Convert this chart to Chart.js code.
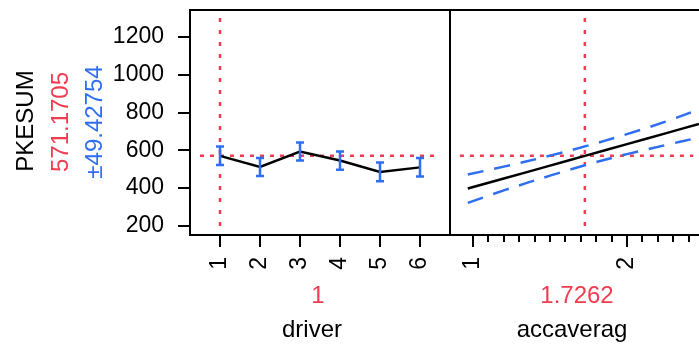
<!DOCTYPE html>
<html>
<head>
<meta charset="utf-8">
<script src="https://cdn.jsdelivr.net/npm/chart.js@4.4.0/dist/chart.umd.min.js"></script>
<style>
    html, body { margin: 0; padding: 0; background: #fff; }
    #wrap { position: relative; width: 699px; height: 345px; overflow: hidden; }
    #left { position: absolute; left: 0; top: 0; }
    #right { position: absolute; left: 448px; top: 0; }
</style>
</head>
<body>
<div id="wrap">
    <canvas id="left" width="450" height="345"></canvas>
    <canvas id="right" width="251" height="345"></canvas>
</div>
<script>
// response
const responseName = "PKESUM";
const predValue = 571.1705;
const predText = "571.1705";
const errText = "±49.42754";

// driver panel
const driverLevels = [1, 2, 3, 4, 5, 6];
const driverMean = [571, 512, 594, 546, 486, 510];
const driverLower = [522, 464, 546, 498, 436, 462];
const driverUpper = [621, 560, 642, 594, 536, 560];
const driverCurrent = 1;

// accaverag panel
const accX = [0.966, 1.2, 1.5, 1.7262, 2.0, 2.25, 2.467];
const accPred = [398, 451, 519, 571, 633, 690, 740];
const accUpper = [472, 514, 572, 621, 686, 752, 817];
const accLower = [322, 388, 466, 521, 580, 628, 668];
const accCurrent = 1.7262;
const accTicks = [1, 1.1, 1.2, 1.3, 1.4, 1.5, 1.6, 1.7, 1.8, 1.9, 2, 2.1, 2.2, 2.3, 2.4];

// y axis
const yTicks = [200, 300, 400, 500, 600, 700, 800, 900, 1000, 1100, 1200, 1300];
const yMin = 152;
const yMax = 1343;

const RED = "#f03c50";
const BLUE = "#2f6ef0";
const FONT = 'Arial, "Liberation Sans", sans-serif';
const TICK_SIZE = 23;
const TITLE_SIZE = 24;

Chart.defaults.font.family = FONT;
Chart.defaults.color = "#000";

function fitBox(w, h) {
    return (scale) => {
        if (w !== null) scale.width = w;
        if (h !== null) scale.height = h;
        scale.paddingTop = 0;
        scale.paddingBottom = 0;
        scale.paddingLeft = 0;
        scale.paddingRight = 0;
    };
}

function dashed(ctx, pts, dash, color, width) {
    ctx.save();
    ctx.strokeStyle = color;
    ctx.lineWidth = width;
    ctx.setLineDash(dash);
    ctx.beginPath();
    ctx.moveTo(pts[0], pts[1]);
    ctx.lineTo(pts[2], pts[3]);
    ctx.stroke();
    ctx.restore();
}

function refLines(chart, xVal, xFrom, xTo) {
    const { ctx, scales } = chart;
    const x = scales.x, y = scales.y;
    const py = y.getPixelForValue(predValue);
    dashed(ctx, [x.getPixelForValue(xFrom), py, x.getPixelForValue(xTo), py], [4, 6], RED, 2.5);
    const px = x.getPixelForValue(xVal);
    dashed(ctx, [px, y.getPixelForValue(1300), px, y.getPixelForValue(200)], [4, 8], RED, 2.5);
}

function frame(chart, sides) {
    const { ctx, chartArea: a } = chart;
    ctx.save();
    ctx.strokeStyle = "#000";
    ctx.lineWidth = 2;
    ctx.beginPath();
    if (sides.includes("t")) { ctx.moveTo(a.left - 1, a.top); ctx.lineTo(a.right + 1, a.top); }
    if (sides.includes("b")) { ctx.moveTo(a.left - 1, a.bottom); ctx.lineTo(a.right + 1, a.bottom); }
    if (sides.includes("l")) { ctx.moveTo(a.left, a.top); ctx.lineTo(a.left, a.bottom); }
    if (sides.includes("r")) { ctx.moveTo(a.right, a.top); ctx.lineTo(a.right, a.bottom); }
    ctx.stroke();
    ctx.restore();
}

function text(ctx, str, x, y, color, size, rotate) {
    ctx.save();
    ctx.fillStyle = color;
    ctx.font = size + "px " + FONT;
    ctx.textAlign = "center";
    ctx.textBaseline = "alphabetic";
    ctx.translate(x, y);
    if (rotate) ctx.rotate(-Math.PI / 2);
    ctx.fillText(str, 0, 0);
    ctx.restore();
}

const leftPlugin = {
    id: "leftPanel",
    beforeDatasetsDraw(chart) {
        refLines(chart, driverCurrent, 0.5, 6.35);
    },
    afterDatasetsDraw(chart) {
        const { ctx, scales } = chart;
        ctx.save();
        ctx.strokeStyle = BLUE;
        ctx.lineWidth = 2.5;
        driverLevels.forEach((lv, i) => {
            const x = scales.x.getPixelForValue(lv);
            const t = scales.y.getPixelForValue(driverUpper[i]);
            const b = scales.y.getPixelForValue(driverLower[i]);
            ctx.beginPath();
            ctx.moveTo(x, t); ctx.lineTo(x, b);
            ctx.moveTo(x - 4, t); ctx.lineTo(x + 4, t);
            ctx.moveTo(x - 4, b); ctx.lineTo(x + 4, b);
            ctx.stroke();
        });
        ctx.restore();
        frame(chart, "tblr");
    },
    afterDraw(chart) {
        const ctx = chart.ctx;
        text(ctx, responseName, 33, 121, "#000", TITLE_SIZE, true);
        text(ctx, predText, 68, 122, RED, TITLE_SIZE, true);
        text(ctx, errText, 102, 122, BLUE, TITLE_SIZE, true);
        text(ctx, String(driverCurrent), 318, 303, RED, TITLE_SIZE, false);
        text(ctx, "driver", 312, 337, "#000", TITLE_SIZE, false);
    }
};

const rightPlugin = {
    id: "rightPanel",
    beforeDatasetsDraw(chart) {
        refLines(chart, accCurrent, 0.915, 2.43);
    },
    afterDatasetsDraw(chart) {
        frame(chart, "tbl");
        const { ctx, scales, chartArea } = chart;
        ctx.save();
        ctx.strokeStyle = "#000";
        ctx.lineWidth = 2;
        accTicks.filter(v => !Number.isInteger(v)).forEach(v => {
            const x = Math.round(scales.x.getPixelForValue(v));
            ctx.beginPath();
            ctx.moveTo(x, chartArea.bottom);
            ctx.lineTo(x, chartArea.bottom + 7);
            ctx.stroke();
        });
        ctx.restore();
    },
    afterDraw(chart) {
        const ctx = chart.ctx;
        text(ctx, String(accCurrent), 577 - 448, 303, RED, TITLE_SIZE, false);
        text(ctx, "accaverag", 572 - 448, 337, "#000", TITLE_SIZE, false);
    }
};

const yAxis = (show) => ({
    type: "linear",
    display: show,
    min: yMin,
    max: yMax,
    afterBuildTicks: (s) => { s.ticks = yTicks.map(v => ({ value: v })); },
    afterFit: fitBox(show ? 190 : 0, null),
    border: { display: false },
    grid: { drawOnChartArea: false, tickLength: 12, lineWidth: 2, color: "#000" },
    ticks: {
        padding: 14,
        font: { size: TICK_SIZE },
        callback: (v) => (v % 200 === 0 ? String(v) : "")
    }
});

new Chart(document.getElementById("left"), {
    type: "line",
    data: {
        datasets: [{
            data: driverLevels.map((lv, i) => ({ x: lv, y: driverMean[i] })),
            borderColor: "#000",
            borderWidth: 2.5,
            pointRadius: 0,
            tension: 0
        }]
    },
    options: {
        responsive: false,
        animation: false,
        devicePixelRatio: 1,
        layout: { padding: { top: 10, right: 0, bottom: 0, left: 0 } },
        plugins: { legend: { display: false }, tooltip: { enabled: false } },
        scales: {
            x: {
                type: "linear",
                min: 0.25,
                max: 6.75,
                afterBuildTicks: (s) => { s.ticks = driverLevels.map(v => ({ value: v })); },
                afterFit: fitBox(null, 110),
                border: { display: false },
                grid: { drawOnChartArea: false, tickLength: 12, lineWidth: 2, color: "#000" },
                ticks: { minRotation: 90, maxRotation: 90, padding: 10, font: { size: TICK_SIZE } }
            },
            y: yAxis(true)
        }
    },
    plugins: [leftPlugin]
});

const bandLine = (vals, color, dash) => ({
    data: accX.map((x, i) => ({ x, y: vals[i] })),
    borderColor: color,
    borderWidth: 2.5,
    borderDash: dash,
    pointRadius: 0,
    tension: 0.4
});

new Chart(document.getElementById("right"), {
    type: "line",
    data: {
        datasets: [
            bandLine(accPred, "#000", []),
            bandLine(accUpper, BLUE, [16, 11]),
            bandLine(accLower, BLUE, [16, 11])
        ]
    },
    options: {
        responsive: false,
        animation: false,
        devicePixelRatio: 1,
        layout: { padding: { top: 10, right: 0, bottom: 0, left: 2 } },
        plugins: { legend: { display: false }, tooltip: { enabled: false } },
        scales: {
            x: {
                type: "linear",
                min: 0.8506,
                max: 2.4675,
                afterBuildTicks: (s) => { s.ticks = accTicks.map(v => ({ value: v })); },
                afterFit: fitBox(null, 110),
                border: { display: false },
                grid: {
                    drawOnChartArea: false,
                    tickLength: 12,
                    lineWidth: 2,
                    color: "#000",
                    tickColor: (c) => (c.tick && Number.isInteger(c.tick.value) ? "#000" : "rgba(0,0,0,0)")
                },
                ticks: {
                    minRotation: 90,
                    maxRotation: 90,
                    padding: 10,
                    autoSkip: false,
                    font: { size: TICK_SIZE },
                    callback: (v) => (Number.isInteger(v) ? String(v) : "")
                }
            },
            y: yAxis(false)
        }
    },
    plugins: [rightPlugin]
});
</script>
</body>
</html>
